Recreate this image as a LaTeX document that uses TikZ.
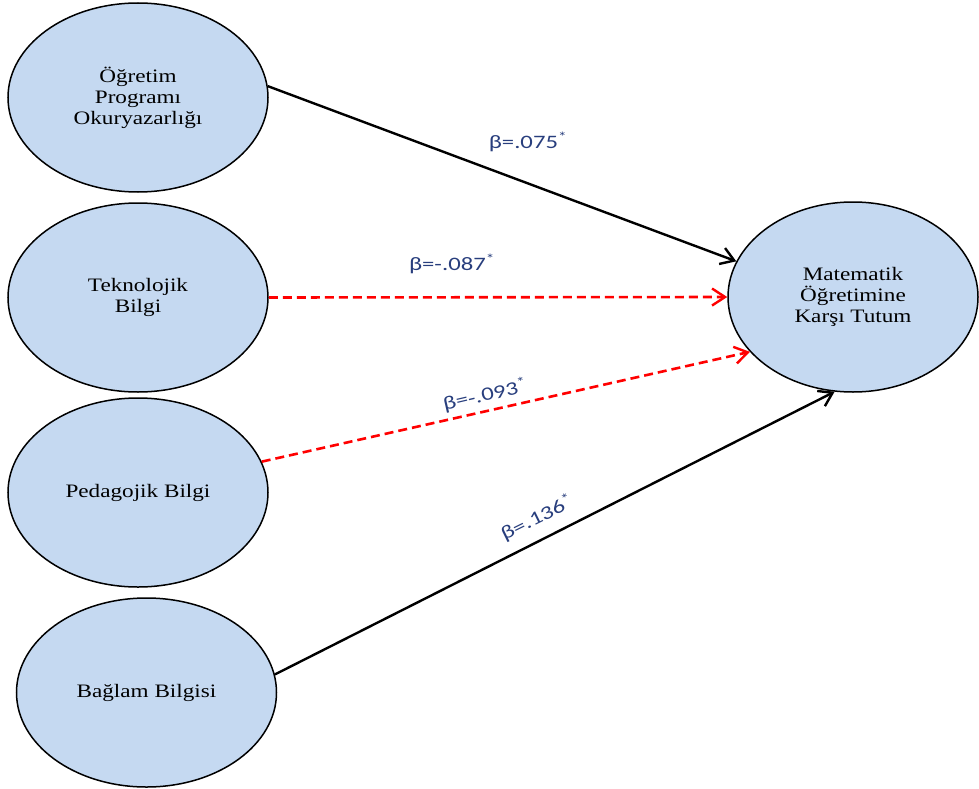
\documentclass[tikz,border=0pt]{standalone}
\usepackage{fontspec}
\usetikzlibrary{shapes.geometric,arrows.meta}
\newfontfamily\nodefont[FakeStretch=1.22]{Liberation Serif}
\newfontfamily\labfont[FakeStretch=1.3]{Carlito}
\definecolor{ellfill}{RGB}{197,217,241}
\definecolor{labblue}{RGB}{40,62,125}
\definecolor{dashred}{RGB}{255,0,0}
\begin{document}
\begin{tikzpicture}[x=1pt,y=-1pt,
  ell/.style={ellipse,draw=black,line width=1.5pt,fill=ellfill,inner sep=0pt,
    minimum width=260pt,minimum height=189pt,align=center,
    font=\nodefont\fontsize{19}{21}\selectfont},
  solidarr/.style={draw=black,line width=2.4pt,-{Straight Barb[length=13pt,width=17pt,line width=2.4pt]}},
  dasharr/.style={draw=dashred,line width=2.6pt,dash pattern=on 9pt off 5pt,
    -{Straight Barb[length=13pt,width=17pt,line width=2.4pt]}},
  lab/.style={text=labblue,font=\labfont\fontsize{19}{21}\selectfont,inner sep=0pt}]
\useasboundingbox (0,0) rectangle (979,789);
\node[ell] (e1) at (138,97.5) {Öğretim\\Programı\\Okuryazarlığı};
\node[ell] (e2) at (138,297.5) {Teknolojik\\Bilgi};
\node[ell] (e3) at (138,492.5) {Pedagojik Bilgi};
\node[ell] (e4) at (146.5,692.5) {Bağlam Bilgisi};
\node[ell,minimum width=250pt,minimum height=190pt] (m) at (853,297) {Matematik\\Öğretimine\\Karşı Tutum};
\draw[solidarr] (e1.5) -- (m.163);
\draw[dasharr] (e2.east) -- (m.west);
\draw[dasharr] (e3.14) -- (m.208);
\draw[solidarr] (e4.8) -- (m.259);
\node[lab] (l1) at (528,142) {β=.075\textsuperscript{*}};
\node[lab] (l2) at (452,264) {β=-.087\textsuperscript{*}};
\node[lab,rotate=13] (l3) at (485,395) {β=-.093\textsuperscript{*}};
\node[lab,rotate=26.3] (l4) at (537,518) {β=.136\textsuperscript{*}};
\end{tikzpicture}
\end{document}
